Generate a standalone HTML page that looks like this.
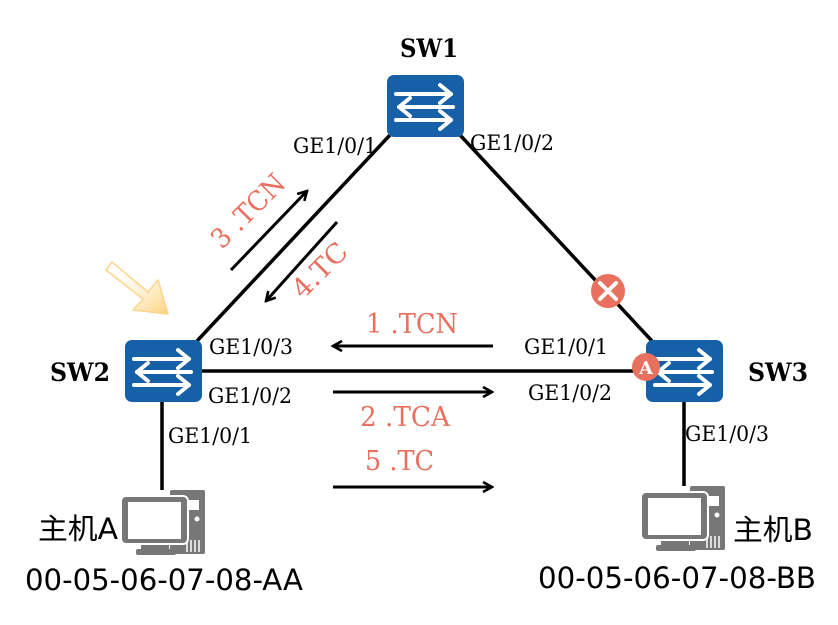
<!DOCTYPE html>
<html><head><meta charset="utf-8"><style>
html,body{margin:0;padding:0;background:#fff;}
svg{display:block;}
.ge{font-family:"DejaVu Serif","Liberation Serif",serif;font-size:21px;fill:#000;}
.sw{font-family:"DejaVu Serif","Liberation Serif",serif;font-size:25px;font-weight:bold;fill:#000;}
.red{font-family:"DejaVu Serif","Liberation Serif",serif;font-size:27px;fill:#e8705f;}
.big{font-family:"DejaVu Sans","Liberation Sans","Noto Sans CJK SC",sans-serif;font-size:29px;fill:#000;}
</style></head><body>
<svg width="838" height="625" viewBox="0 0 838 625" xmlns="http://www.w3.org/2000/svg">
<defs>
<g id="swi">
<rect x="0" y="0" width="77" height="62" rx="7" fill="#1560a6"/>
<g stroke="#fff" stroke-width="4" fill="none" stroke-linecap="round" stroke-linejoin="round">
<line x1="9" y1="19" x2="64" y2="19"/><polyline points="53,10 64,19 53,28"/>
<line x1="12" y1="32" x2="66" y2="32"/><polyline points="23,23 12,32 23,41"/>
<line x1="9" y1="45" x2="64" y2="45"/><polyline points="53,36 64,45 53,54"/>
</g>
</g>
<g id="pc">
<rect x="49" y="0" width="35" height="64" rx="2" fill="#777"/>
<rect x="55" y="10" width="23" height="10" fill="#fff"/>
<circle cx="76" cy="29" r="2.5" fill="#fff"/>
<g stroke="#fff" stroke-width="1.5"><line x1="66" y1="50" x2="66" y2="62"/><line x1="70" y1="50" x2="70" y2="62"/><line x1="74" y1="50" x2="74" y2="62"/><line x1="78" y1="50" x2="78" y2="62"/></g>
<rect x="0" y="6" width="67" height="48" rx="5" fill="#777" stroke="#fff" stroke-width="2"/>
<rect x="7" y="12" width="53" height="37" fill="#fff"/>
<rect x="20" y="55" width="28" height="5" fill="#777"/>
<rect x="15" y="59" width="40" height="6" rx="2" fill="#777"/>
</g>
<linearGradient id="yg" x1="0" y1="0" x2="1" y2="1">
<stop offset="0" stop-color="#fff" stop-opacity="0"/><stop offset="1" stop-color="#fcd27a"/>
</linearGradient>
<marker id="ah" viewBox="0 0 12 12" refX="10" refY="6" markerWidth="12" markerHeight="12" markerUnits="userSpaceOnUse" orient="auto">
<polyline points="1,1 10,6 1,11" fill="none" stroke="#000" stroke-width="2.6"/>
</marker>
</defs>
<g stroke="#000" stroke-width="3.5" fill="none">
<line x1="390" y1="135" x2="197" y2="341"/>
<line x1="460" y1="135" x2="652" y2="341"/>
<line x1="202" y1="371" x2="646" y2="371"/>
<line x1="162" y1="402" x2="162" y2="490"/>
<line x1="684" y1="402" x2="684" y2="486"/>
</g>
<g stroke="#000" stroke-width="3" fill="none" marker-end="url(#ah)">
<line x1="231" y1="270" x2="307" y2="191"/>
<line x1="337" y1="222" x2="266" y2="301"/>
<line x1="493" y1="346" x2="333" y2="346"/>
<line x1="333" y1="392" x2="492" y2="392"/>
<line x1="333" y1="487" x2="492" y2="487"/>
</g>
<path d="M112,262 L148,292 L158,280 L168,314 L133,310 L143,299 L106,270 Z" fill="url(#yg)" stroke="#fcd58a" stroke-width="1.5"/>
<use href="#swi" x="387" y="75"/>
<use href="#swi" x="125" y="340"/>
<use href="#swi" x="646" y="340"/>
<circle cx="608" cy="291" r="17" fill="#e8705f"/>
<g stroke="#fff" stroke-width="4" stroke-linecap="round"><line x1="600" y1="283" x2="616" y2="299"/><line x1="616" y1="283" x2="600" y2="299"/></g>
<circle cx="646" cy="367" r="14" fill="#e8705f"/>
<text x="646" y="374" text-anchor="middle" font-family="DejaVu Serif,serif" font-size="18" font-weight="bold" fill="#fff">A</text>
<use href="#pc" x="121" y="490"/>
<use href="#pc" x="641" y="486"/>
<g lengthAdjust="spacingAndGlyphs">
<text class="sw" x="400" y="57" textLength="58" lengthAdjust="spacingAndGlyphs">SW1</text>
<text class="sw" x="50" y="381" textLength="60" lengthAdjust="spacingAndGlyphs">SW2</text>
<text class="sw" x="748" y="381" textLength="60" lengthAdjust="spacingAndGlyphs">SW3</text>
<text class="ge" x="293" y="153" textLength="84" lengthAdjust="spacingAndGlyphs">GE1/0/1</text>
<text class="ge" x="470" y="150" textLength="84" lengthAdjust="spacingAndGlyphs">GE1/0/2</text>
<text class="ge" x="209" y="354" textLength="84" lengthAdjust="spacingAndGlyphs">GE1/0/3</text>
<text class="ge" x="208" y="403" textLength="84" lengthAdjust="spacingAndGlyphs">GE1/0/2</text>
<text class="ge" x="168" y="443" textLength="84" lengthAdjust="spacingAndGlyphs">GE1/0/1</text>
<text class="ge" x="524" y="354" textLength="84" lengthAdjust="spacingAndGlyphs">GE1/0/1</text>
<text class="ge" x="528" y="400" textLength="84" lengthAdjust="spacingAndGlyphs">GE1/0/2</text>
<text class="ge" x="685" y="441" textLength="84" lengthAdjust="spacingAndGlyphs">GE1/0/3</text>
<text class="red" x="366" y="333" textLength="92" lengthAdjust="spacingAndGlyphs">1 .TCN</text>
<text class="red" x="360" y="426" textLength="90" lengthAdjust="spacingAndGlyphs">2 .TCA</text>
<text class="red" x="365" y="470" textLength="69" lengthAdjust="spacingAndGlyphs">5 .TC</text>
<text class="red" transform="translate(222,250) rotate(-45)" textLength="92" lengthAdjust="spacingAndGlyphs">3 .TCN</text>
<text class="red" transform="translate(303,300) rotate(-45)" textLength="66" lengthAdjust="spacingAndGlyphs">4.TC</text>
<text class="big" x="38" y="539" textLength="80" lengthAdjust="spacingAndGlyphs">主机A</text>
<text class="big" x="733" y="540" textLength="80" lengthAdjust="spacingAndGlyphs">主机B</text>
<text class="big" x="25" y="590" textLength="278" lengthAdjust="spacingAndGlyphs">00-05-06-07-08-AA</text>
<text class="big" x="538" y="588" textLength="278" lengthAdjust="spacingAndGlyphs">00-05-06-07-08-BB</text>
</g>
</svg>
</body></html>
